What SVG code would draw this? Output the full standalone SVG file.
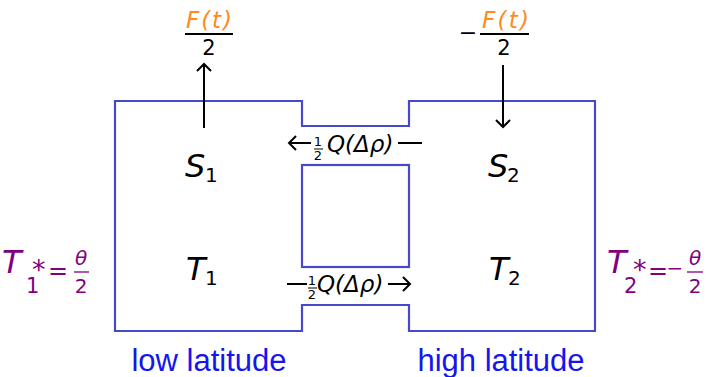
<svg xmlns="http://www.w3.org/2000/svg" width="707" height="377" viewBox="0 0 707 377">
<defs>
<style>
.box{fill:none;stroke:#4848cc;stroke-width:2.2}
.ln{fill:none;stroke:#000;stroke-width:2}
.m{font-family:"DejaVu Sans",Verdana,sans-serif;font-style:italic;fill:#000}
.n{font-family:"DejaVu Sans",Verdana,sans-serif;fill:#000}
.or{fill:#ff8a1e}
.pu{fill:#800080}
.lab{font-family:"Liberation Sans",Arial,sans-serif;font-size:31px;fill:#1515ee;text-anchor:middle}
</style>
<marker id="ah" viewBox="-8 -8 10 16" refX="0" refY="0" markerWidth="10" markerHeight="16" markerUnits="userSpaceOnUse" orient="auto">
<path d="M-7,-7 L0,0 L-7,7" fill="none" stroke="#000" stroke-width="2"/>
</marker>
</defs>

<g id="basins">
<path class="box" d="M115,101 H302 V126 H409 V101 H595 V331 H409 V305 H302 V331 H115 Z"/>
<rect class="box" x="302" y="165" width="107" height="102"/>
</g>

<g id="box1">
<text class="m" x="185" y="177" font-size="32">S</text>
<text class="n" x="205" y="182" font-size="20">1</text>
<text class="m" x="186" y="280" font-size="32">T</text>
<text class="n" x="205" y="285" font-size="20">1</text>
</g>

<g id="box2">
<text class="m" x="488" y="177" font-size="32">S</text>
<text class="n" x="507" y="182" font-size="20">2</text>
<text class="m" x="489" y="280" font-size="32">T</text>
<text class="n" x="508" y="285" font-size="20">2</text>
</g>

<g id="forcing1">
<text class="m or" x="186" y="28" font-size="23" textLength="46" lengthAdjust="spacing">F(t)</text>
<line class="ln" x1="185" y1="34" x2="233" y2="34" stroke-width="1.5"/>
<text class="n" x="209" y="55" font-size="21" text-anchor="middle">2</text>
</g>

<g id="forcing2">
<text class="n" x="468" y="40" font-size="22" text-anchor="middle">−</text>
<text class="m or" x="482" y="28" font-size="23" textLength="47" lengthAdjust="spacing">F(t)</text>
<line class="ln" x1="480" y1="34" x2="529" y2="34" stroke-width="1.5"/>
<text class="n" x="504" y="55" font-size="21" text-anchor="middle">2</text>
</g>

<g id="tstar1">
<text class="m pu" x="2" y="273" font-size="32">T</text>
<text class="n pu" x="26" y="293" font-size="21">1</text>
<text class="n pu" x="32" y="279" font-size="27">*</text>
<text class="n pu" x="48" y="279" font-size="24">=</text>
<text class="m pu" x="81" y="265" font-size="20" text-anchor="middle">θ</text>
<line x1="74" y1="272" x2="89" y2="272" stroke="#800080" stroke-width="1.3"/>
<text class="n pu" x="81" y="293" font-size="20" text-anchor="middle">2</text>
</g>

<g id="tstar2">
<text class="m pu" x="607" y="273" font-size="32">T</text>
<text class="n pu" x="624" y="293" font-size="21">2</text>
<text class="n pu" x="633" y="279" font-size="27">*</text>
<text class="n pu" x="648" y="279" font-size="24">=</text>
<text class="n pu" x="675" y="275" font-size="20" text-anchor="middle">−</text>
<text class="m pu" x="695" y="265" font-size="20" text-anchor="middle">θ</text>
<line x1="687" y1="272" x2="703" y2="272" stroke="#800080" stroke-width="1.3"/>
<text class="n pu" x="695" y="293" font-size="20" text-anchor="middle">2</text>
</g>

<g id="labels">
<text class="lab" x="209" y="371">low latitude</text>
<text class="lab" x="501" y="371">high latitude</text>
</g>

<g id="flowlabels">
<text class="n" x="318" y="146" font-size="13" text-anchor="middle">1</text>
<line x1="314" y1="149" x2="323" y2="149" stroke="#000" stroke-width="1"/>
<text class="n" x="318" y="160" font-size="13" text-anchor="middle">2</text>
<text class="m" x="327" y="152" font-size="23">Q(Δρ)</text>
<text class="n" x="312" y="285" font-size="13" text-anchor="middle">1</text>
<line x1="308" y1="288" x2="317" y2="288" stroke="#000" stroke-width="1"/>
<text class="n" x="312" y="299" font-size="13" text-anchor="middle">2</text>
<text class="m" x="317" y="292" font-size="23">Q(Δρ)</text>
</g>

<g id="connectors">
<line class="ln" x1="204" y1="128" x2="204" y2="64" marker-end="url(#ah)"/>
<line class="ln" x1="503" y1="65" x2="503" y2="127" marker-end="url(#ah)"/>
<line class="ln" x1="311" y1="143" x2="289" y2="143" marker-end="url(#ah)"/>
<line class="ln" x1="398" y1="143" x2="422" y2="143"/>
<line class="ln" x1="287" y1="284" x2="307" y2="284"/>
<line class="ln" x1="388" y1="284" x2="410" y2="284" marker-end="url(#ah)"/>
</g>
</svg>
